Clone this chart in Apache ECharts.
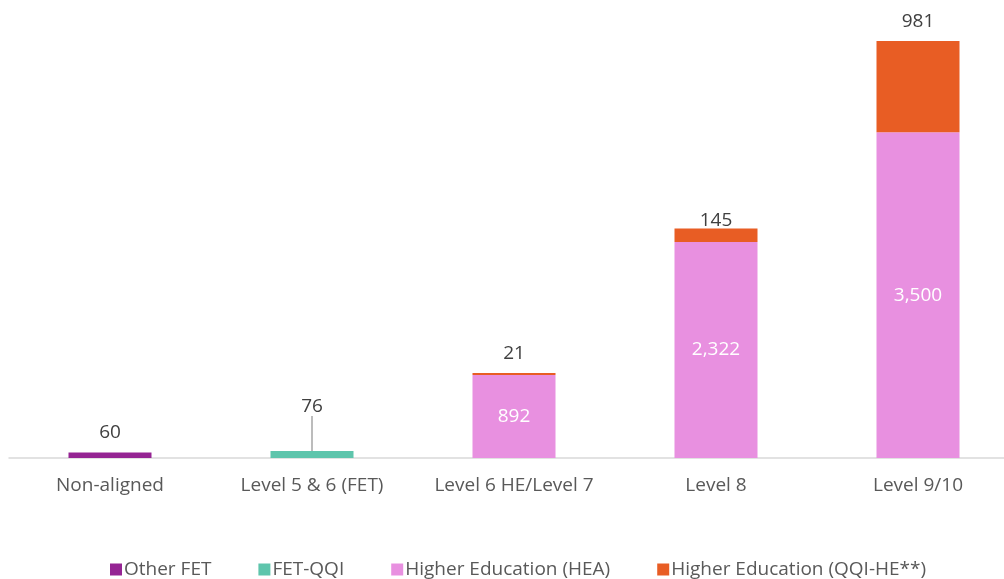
<!DOCTYPE html>
<html>
<head>
<meta charset="utf-8">
<script src="https://cdn.jsdelivr.net/npm/echarts@6/dist/echarts.min.js"></script>
<style>
  html, body { margin: 0; padding: 0; background: #fff; }
  #container { width: 1004px; height: 579px; }
</style>
</head>
<body>
<div id="container"></div>
<script>
(function() {
    var categories = ['Non-aligned', 'Level 5 & 6 (FET)', 'Level 6 HE/Level 7', 'Level 8', 'Level 9/10'];
    var otherFet = [60, '-', '-', '-', '-'];
    var fetQqi = ['-', 76, '-', '-', '-'];
    var heaValues = ['-', '-', 892, 2322, 3500];
    var qqiHeValues = ['-', '-', 21, 145, 981];

    var dom = document.getElementById('container');
    var myChart = echarts.init(dom);
    var font = '"Open Sans", Lato, sans-serif';

    function fmt(p) {
        return Number(p.value).toLocaleString('en-US');
    }

    var option = {
        animation: false,
        textStyle: { fontFamily: font },
        grid: { left: 9, width: 1010, top: 41, bottom: 121, outerBoundsMode: 'none', containLabel: false },
        legend: {
            bottom: -5,
            left: 105,
            itemWidth: 12,
            itemHeight: 12,
            itemGap: 47,
            icon: 'rect',
            textStyle: { color: '#595959', fontSize: 19, fontFamily: font, padding: [0, 0, 0, -3] },
            data: ['Other FET', 'FET-QQI', 'Higher Education (HEA)', 'Higher Education (QQI-HE**)']
        },
        xAxis: {
            type: 'category',
            data: categories,
            axisLine: { lineStyle: { color: '#d9d9d9', width: 1.5 } },
            axisTick: { show: false },
            axisLabel: { color: '#595959', fontSize: 19, margin: 18, interval: 0 }
        },
        yAxis: {
            type: 'value',
            min: 0,
            max: 4481,
            show: false,
            splitLine: { show: false }
        },
        series: [{
            name: 'Other FET',
            type: 'bar',
            stack: 'total',
            barWidth: 83,
            itemStyle: { color: '#952493' },
            label: { show: true, position: 'top', color: '#404040', fontSize: 19, distance: 10, formatter: fmt },
            data: otherFet
        }, {
            name: 'FET-QQI',
            type: 'bar',
            stack: 'total',
            barWidth: 83,
            itemStyle: { color: '#5EC5AC' },
            label: { show: true, position: 'top', color: '#404040', fontSize: 19, distance: 5, formatter: fmt },
            labelLayout: { dy: -30 },
            labelLine: { show: true, lineStyle: { color: '#a6a6a6', width: 1.5 } },
            data: fetQqi
        }, {
            name: 'Higher Education (HEA)',
            type: 'bar',
            stack: 'total',
            barWidth: 83,
            itemStyle: { color: '#E890E0' },
            label: { show: true, position: 'inside', color: '#ffffff', fontSize: 19, formatter: fmt },
            data: heaValues
        }, {
            name: 'Higher Education (QQI-HE**)',
            type: 'bar',
            stack: 'total',
            barWidth: 83,
            itemStyle: { color: '#E85D24' },
            label: { show: true, position: 'top', color: '#404040', fontSize: 19, distance: 10, formatter: fmt },
            data: qqiHeValues.map(function(v, i) {
                if (v === 145) {
                    return { value: v, label: { distance: -2 } };
                }
                return v;
            })
        }]
    };
    myChart.setOption(option);
}).call(this);
</script>
</body>
</html>
